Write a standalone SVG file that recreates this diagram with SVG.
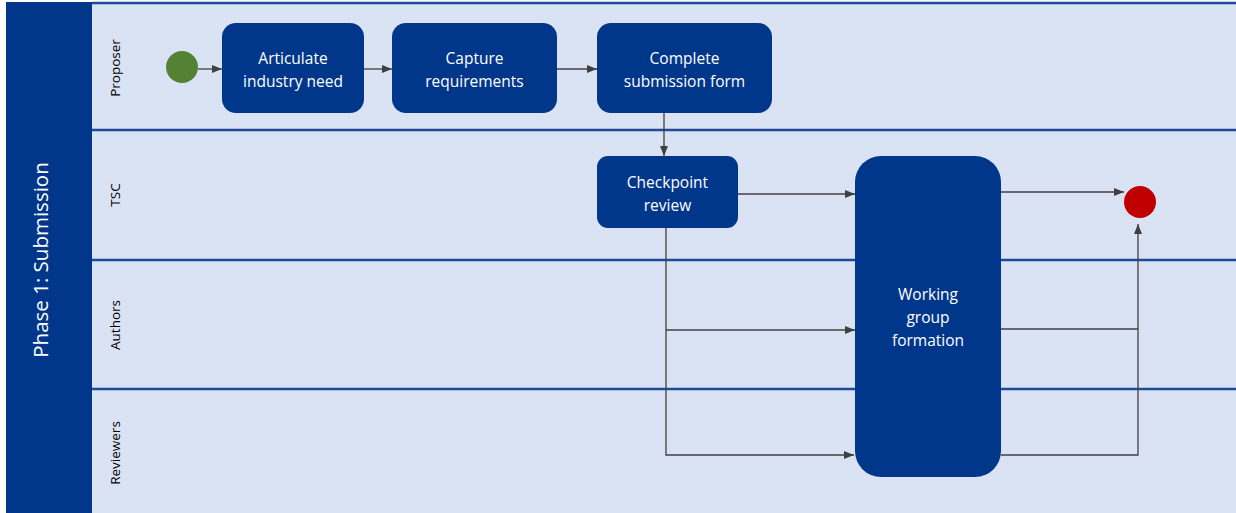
<svg xmlns="http://www.w3.org/2000/svg" width="1236" height="513" viewBox="0 0 1236 513">
<defs>
<marker id="arr" markerWidth="10" markerHeight="8" refX="10" refY="4" orient="auto" markerUnits="userSpaceOnUse">
<path d="M0,0 L10,4 L0,8 Z" fill="#404040"/>
</marker>
<style>
.node{fill:#00378B;}
.nt{fill:#FFFFFF;font-family:"Open Sans","Liberation Sans",sans-serif;font-size:15.5px;text-anchor:middle;}
.lane{fill:#000000;font-family:"Open Sans","Liberation Sans",sans-serif;font-size:13.5px;text-anchor:middle;}
.sep{stroke:#1F4A99;stroke-width:2.5;}
.c{fill:none;stroke:#404040;stroke-width:1.3;}
</style>
</defs>
<rect x="0" y="0" width="1236" height="513" fill="#FFFFFF"/>
<g id="pool">
<rect x="92" y="3" width="1144" height="510" fill="#DAE3F3"/>
<rect x="6" y="2" width="86" height="511" fill="#00378B"/>
<line x1="92" y1="3" x2="1236" y2="3" class="sep" stroke-width="2"/>
<line x1="92" y1="130" x2="1236" y2="130" class="sep"/>
<line x1="92" y1="260" x2="1236" y2="260" class="sep"/>
<line x1="92" y1="389" x2="1236" y2="389" class="sep"/>
<text x="43" y="260" transform="rotate(-90 43 260)" fill="#FFFFFF" font-family="'Open Sans','Liberation Sans',sans-serif" font-size="20.5" text-anchor="middle" dominant-baseline="middle">Phase 1: Submission</text>
<text class="lane" x="116" y="68" transform="rotate(-90 116 68)" dominant-baseline="middle">Proposer</text>
<text class="lane" x="116" y="195" transform="rotate(-90 116 195)" dominant-baseline="middle">TSC</text>
<text class="lane" x="116" y="325" transform="rotate(-90 116 325)" dominant-baseline="middle">Authors</text>
<text class="lane" x="116" y="453" transform="rotate(-90 116 453)" dominant-baseline="middle">Reviewers</text>
</g>
<g id="connectors">
<line class="c" x1="198" y1="69" x2="222" y2="69" marker-end="url(#arr)"/>
<line class="c" x1="364" y1="69" x2="392" y2="69" marker-end="url(#arr)"/>
<line class="c" x1="557" y1="69" x2="597" y2="69" marker-end="url(#arr)"/>
<line class="c" x1="664" y1="113" x2="664" y2="156" marker-end="url(#arr)"/>
<line class="c" x1="738" y1="194" x2="855" y2="194" marker-end="url(#arr)"/>
<polyline class="c" points="666,228 666,455 854,455" marker-end="url(#arr)"/>
<line class="c" x1="666" y1="330" x2="855" y2="330" marker-end="url(#arr)"/>
<line class="c" x1="1001" y1="192" x2="1124" y2="192" marker-end="url(#arr)"/>
<line class="c" x1="1001" y1="329" x2="1138" y2="329"/>
<polyline class="c" points="1001,455 1138,455 1138,224" marker-end="url(#arr)"/>
</g>
<g id="start"><circle cx="182" cy="67" r="16" fill="#548235"/></g>
<g id="articulate">
<rect class="node" x="222" y="23" width="142" height="90" rx="14"/>
<text class="nt" x="293" y="64">Articulate</text>
<text class="nt" x="293" y="87">industry need</text>
</g>
<g id="capture">
<rect class="node" x="392" y="23" width="165" height="90" rx="14"/>
<text class="nt" x="474.5" y="64">Capture</text>
<text class="nt" x="474.5" y="87">requirements</text>
</g>
<g id="complete">
<rect class="node" x="597" y="23" width="175" height="90" rx="14"/>
<text class="nt" x="684.5" y="64">Complete</text>
<text class="nt" x="684.5" y="87">submission form</text>
</g>
<g id="checkpoint">
<rect class="node" x="597" y="156" width="141" height="72" rx="11"/>
<text class="nt" x="667.5" y="188">Checkpoint</text>
<text class="nt" x="667.5" y="211">review</text>
</g>
<g id="working-group">
<rect class="node" x="855" y="156" width="146" height="321" rx="26"/>
<text class="nt" x="928" y="300">Working</text>
<text class="nt" x="928" y="323">group</text>
<text class="nt" x="928" y="346">formation</text>
</g>
<g id="end"><circle cx="1140" cy="202" r="16" fill="#C00000"/></g>
</svg>
